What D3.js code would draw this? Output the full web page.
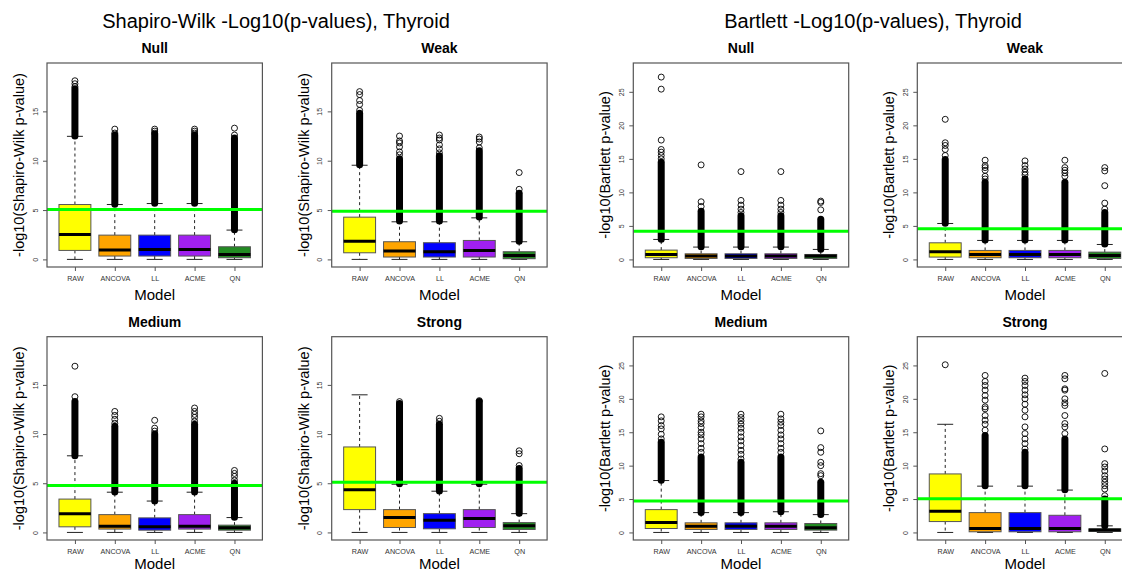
<!DOCTYPE html>
<html>
<head>
<meta charset="utf-8">
<script src="https://cdn.jsdelivr.net/npm/d3@7"></script>
<style>
  body { margin: 0; background: #fff; }
  svg { font-family: "Liberation Sans", Arial, sans-serif; display: block; }
</style>
</head>
<body>
<svg id="chart" width="1122" height="573"></svg>
<script>
// categories
const models = ["RAW", "ANCOVA", "LL", "ACME", "QN"];
const boxColors = ["#ffff00", "#ffa500", "#0000ff", "#a020f0", "#228b22"];

// box stats per model: [lower whisker, q1, median, q3, upper whisker]
// dense = range packed solid with outlier circles, out = single outliers, cut = green line

const swNullStats = [[0, 0.91, 2.53, 5.56, 12.47], [0, 0.34, 0.94, 2.46, 5.56], [0, 0.34, 1.01, 2.46, 5.66], [0, 0.34, 1.01, 2.46, 5.66], [0, 0.17, 0.5, 1.28, 2.97]];
const swNullDense = [[12.5, 17.3], [5.6, 12.6], [5.7, 12.7], [5.7, 12.6], [3.0, 12.3]];
const swNullOut = [[17.5, 17.8, 18.1], [12.8, 13.2], [12.8, 13.0, 13.2], [12.8, 13.0, 13.2], [12.6, 13.3]];
const swNullCut = 5.06;

const swWeakStats = [[0, 0.67, 1.85, 4.28, 9.54], [0, 0.24, 0.84, 1.79, 3.81], [0, 0.24, 0.78, 1.69, 3.81], [0, 0.24, 0.91, 1.92, 4.21], [0, 0.07, 0.4, 0.78, 1.79]];
const swWeakDense = [[9.6, 14.8], [3.9, 10.2], [3.9, 10.5], [4.3, 11.0], [1.85, 6.7]];
const swWeakOut = [[15.1, 15.7, 16.1, 16.7, 17.0], [10.6, 10.9, 11.4, 11.8, 12.0, 12.5], [10.8, 11.2, 11.6, 12.1, 12.3, 12.6], [11.3, 11.9, 12.2, 12.4], [7.1, 8.8]];
const swWeakCut = 4.89;

const swMediumStats = [[0, 0.57, 1.91, 3.39, 7.79], [0, 0.34, 0.64, 1.81, 4.09], [0, 0.23, 0.57, 1.48, 3.19], [0, 0.34, 0.64, 1.81, 4.09], [0, 0.23, 0.47, 0.74, 1.51]];
const swMediumDense = [[7.8, 13.3], [4.1, 10.8], [3.2, 10.0], [4.1, 11.0], [1.55, 5.0]];
const swMediumOut = [[13.8, 16.9], [11.1, 11.5, 11.9, 12.3], [10.3, 10.6, 11.4], [11.3, 11.7, 12.0, 12.3, 12.65], [5.3, 5.7, 6.0, 6.3]];
const swMediumCut = 4.77;

const swStrongStats = [[0, 2.32, 4.33, 8.69, 13.99], [0, 0.5, 1.51, 2.32, 4.9], [0, 0.37, 1.24, 1.91, 4.19], [0, 0.5, 1.41, 2.32, 4.9], [0, 0.3, 0.67, 1.0, 1.91]];
const swStrongDense = [null, [4.95, 13.1], [4.2, 11.0], [4.95, 13.3], [1.95, 6.5]];
const swStrongOut = [[], [13.3], [11.3, 11.6], [13.4], [6.8, 8.0, 8.3]];
const swStrongCut = 5.1;

const bNullStats = [[0, 0.25, 0.74, 1.39, 2.98], [0, 0.15, 0.5, 0.84, 1.84], [0, 0.15, 0.5, 0.84, 1.84], [0, 0.15, 0.5, 0.84, 1.84], [0, 0.15, 0.5, 0.74, 1.49]];
const bNullDense = [[3.0, 14.5], [1.9, 7.2], [1.9, 6.5], [1.9, 6.5], [1.5, 6.0]];
const bNullOut = [[15.0, 15.5, 16.0, 16.4, 17.8, 25.4, 27.2], [7.9, 8.6, 14.1], [7.0, 7.5, 8.1, 8.8, 13.1], [7.0, 7.5, 8.1, 8.8, 13.1], [7.4, 8.5, 8.7]];
const bNullCut = 4.2;

const bWeakStats = [[0, 0.35, 1.14, 2.48, 5.36], [0, 0.25, 0.74, 1.34, 2.83], [0, 0.25, 0.74, 1.34, 2.83], [0, 0.25, 0.74, 1.34, 2.83], [0, 0.15, 0.6, 1.09, 2.23]];
const bWeakDense = [[5.4, 14.9], [2.9, 11.5], [2.9, 12.0], [2.9, 11.5], [2.3, 7.0]];
const bWeakOut = [[15.5, 16.4, 17.0, 17.4, 20.9], [12.0, 12.4, 13.3, 13.7, 14.0, 14.8], [12.6, 13.0, 13.5, 14.0, 14.7], [12.4, 12.9, 13.3, 13.7, 14.8], [7.5, 8.4, 11.0, 13.2, 13.7]];
const bWeakCut = 4.56;

const bMediumStats = [[0, 0.59, 1.49, 3.42, 7.77], [0, 0.45, 0.94, 1.44, 2.97], [0, 0.45, 0.94, 1.44, 2.97], [0, 0.45, 0.94, 1.44, 3.1], [0, 0.35, 0.69, 1.34, 2.67]];
const bMediumDense = [[7.8, 13.5], [3.0, 11.3], [3.0, 10.5], [3.1, 11.3], [2.7, 7.5]];
const bMediumOut = [[14.0, 14.7, 15.5, 16.0, 16.7, 17.3], [12.0, 12.6, 13.3, 14.0, 14.6, 15.0, 15.7, 16.3, 16.7, 17.3, 17.7], [11.0, 11.7, 12.3, 13.0, 13.7, 14.3, 15.0, 15.6, 16.2, 16.7, 17.2, 17.7], [12.0, 12.6, 13.3, 14.0, 14.6, 15.3, 16.0, 16.5, 17.0, 17.7], [8.5, 8.8, 10.0, 10.5, 12.0, 12.7, 15.2]];
const bMediumCut = 4.7;

const bStrongStats = [[0, 1.63, 3.17, 8.76, 16.19], [0, 0.1, 0.59, 2.97, 6.93], [0, 0.1, 0.59, 2.97, 6.93], [0, 0.1, 0.59, 2.57, 6.34], [0, 0.15, 0.35, 0.54, 0.99]];
const bStrongDense = [null, [7.0, 14.5], [7.0, 12.0], [6.4, 14.0], [1.0, 5.0]];
const bStrongOut = [[25.1], [15.3, 16.2, 16.8, 17.5, 18.5, 18.8, 19.8, 20.5, 21.3, 22.0, 22.6, 23.5], [12.5, 13.3, 14.0, 14.8, 15.8, 17.3, 18.3, 19.2, 20.0, 20.6, 21.3, 22.0, 22.6, 23.1], [14.8, 15.8, 16.3, 17.5, 19.0, 19.4, 20.0, 21.3, 21.5, 23.0, 23.5], [5.5, 6.5, 7.0, 7.5, 8.0, 8.5, 9.2, 9.8, 10.3, 12.5, 23.8]];
const bStrongCut = 5.05;

// y ticks
const swTicks = [0, 5, 10, 15];
const bTicks = [0, 5, 10, 15, 20, 25];

const svg = d3.select("#chart");

// layout of the 8 panels
const colX = [47, 331.7, 633.3, 917.3];
const rowY = [63, 336.7];
const pw = 215.4, ph = 204;

const panels = [
  { title: "Null",   x: colX[0], y: rowY[0], stats: swNullStats,   dense: swNullDense,   out: swNullOut,   cut: swNullCut,   test: "sw" },
  { title: "Weak",   x: colX[1], y: rowY[0], stats: swWeakStats,   dense: swWeakDense,   out: swWeakOut,   cut: swWeakCut,   test: "sw" },
  { title: "Medium", x: colX[0], y: rowY[1], stats: swMediumStats, dense: swMediumDense, out: swMediumOut, cut: swMediumCut, test: "sw" },
  { title: "Strong", x: colX[1], y: rowY[1], stats: swStrongStats, dense: swStrongDense, out: swStrongOut, cut: swStrongCut, test: "sw" },
  { title: "Null",   x: colX[2], y: rowY[0], stats: bNullStats,    dense: bNullDense,    out: bNullOut,    cut: bNullCut,    test: "b" },
  { title: "Weak",   x: colX[3], y: rowY[0], stats: bWeakStats,    dense: bWeakDense,    out: bWeakOut,    cut: bWeakCut,    test: "b" },
  { title: "Medium", x: colX[2], y: rowY[1], stats: bMediumStats,  dense: bMediumDense,  out: bMediumOut,  cut: bMediumCut,  test: "b" },
  { title: "Strong", x: colX[3], y: rowY[1], stats: bStrongStats,  dense: bStrongDense,  out: bStrongOut,  cut: bStrongCut,  test: "b" }
];

// main titles
svg.append("text").attr("x", 276).attr("y", 28).attr("text-anchor", "middle")
  .attr("font-size", 20).text("Shapiro-Wilk -Log10(p-values), Thyroid");
svg.append("text").attr("x", 873).attr("y", 28).attr("text-anchor", "middle")
  .attr("font-size", 20).text("Bartlett -Log10(p-values), Thyroid");

panels.forEach(function(p) { drawPanel(p); });

function drawPanel(p)
{
    const g = svg.append("g").attr("transform", "translate(" + p.x + "," + p.y + ")");
    const h = (p.y > 100) ? 203.3 : ph;

    const x = d3.scaleLinear().domain([0.3, 5.7]).range([0, pw]);
    const y = d3.scaleLinear()
        .domain(p.test == "sw" ? [-0.77, 19.9] : [-1.13, 29.3])
        .range([h, 0]);
    const unit = x(2) - x(1);
    const bw = unit * 0.8;
    const cw = unit * 0.4;

    // titles
    g.append("text").attr("x", pw / 2).attr("y", -10).attr("text-anchor", "middle")
      .attr("font-size", 14).attr("font-weight", "bold").text(p.title);
    // keep the lower "Model" inside the page
    g.append("text").attr("x", pw / 2).attr("y", Math.min(h + 33, 569.5 - p.y)).attr("text-anchor", "middle")
      .attr("font-size", 15).text("Model");
    g.append("text")
      .attr("transform", "translate(" + (-23) + "," + (h / 2) + ") rotate(-90)")
      .attr("text-anchor", "middle").attr("font-size", 14.5)
      .text(p.test == "sw" ? "-log10(Shapiro-Wilk p-value)" : "-log10(Bartlett p-value)");

    // axes
    const yAxis = g.append("g").call(d3.axisLeft(y).tickValues(p.test == "sw" ? swTicks : bTicks).tickSize(4));
    yAxis.select(".domain").remove();
    yAxis.selectAll("line").attr("stroke", "#555");
    yAxis.selectAll("text").attr("transform", "rotate(-90)").attr("x", 0).attr("y", -9.5)
      .attr("dy", 0).attr("text-anchor", "middle").attr("font-size", 7).attr("fill", "#333");

    const xAxis = g.append("g").attr("transform", "translate(0," + h + ")")
      .call(d3.axisBottom(x).tickValues([1, 2, 3, 4, 5]).tickFormat(function(d) { return models[d - 1]; }).tickSize(4));
    xAxis.select(".domain").remove();
    xAxis.selectAll("line").attr("stroke", "#555");
    xAxis.selectAll("text").attr("y", 14).attr("dy", 0).attr("font-size", 7.2).attr("fill", "#333");

    const items = models.map(function(m, i) {
        return { i: i + 1, s: p.stats[i], dense: p.dense[i], out: p.out[i], color: boxColors[i] };
    });

    const box = g.selectAll(".box").data(items).enter().append("g").attr("class", "box");

    // whiskers
    box.append("line")
      .attr("x1", function(d) { return x(d.i); }).attr("x2", function(d) { return x(d.i); })
      .attr("y1", function(d) { return y(d.s[3]); }).attr("y2", function(d) { return y(d.s[4]); })
      .attr("stroke", "#222").attr("stroke-dasharray", "3,3");
    box.append("line")
      .attr("x1", function(d) { return x(d.i); }).attr("x2", function(d) { return x(d.i); })
      .attr("y1", function(d) { return y(d.s[1]); }).attr("y2", function(d) { return y(d.s[0]); })
      .attr("stroke", "#222").attr("stroke-dasharray", "3,3");
    [0, 4].forEach(function(k) {
        box.append("line")
          .attr("x1", function(d) { return x(d.i) - cw / 2; }).attr("x2", function(d) { return x(d.i) + cw / 2; })
          .attr("y1", function(d) { return y(d.s[k]); }).attr("y2", function(d) { return y(d.s[k]); })
          .attr("stroke", "#222");
    });

    // box body + median
    box.append("rect")
      .attr("x", function(d) { return x(d.i) - bw / 2; }).attr("width", bw)
      .attr("y", function(d) { return y(d.s[3]); })
      .attr("height", function(d) { return y(d.s[1]) - y(d.s[3]); })
      .attr("fill", function(d) { return d.color; })
      .attr("stroke", "#555").attr("stroke-width", 1);
    box.append("line")
      .attr("x1", function(d) { return x(d.i) - bw / 2; }).attr("x2", function(d) { return x(d.i) + bw / 2; })
      .attr("y1", function(d) { return y(d.s[2]); }).attr("y2", function(d) { return y(d.s[2]); })
      .attr("stroke", "#000").attr("stroke-width", 3);

    // packed outliers, drawn as a solid column
    box.filter(function(d) { return d.dense; }).append("rect")
      .attr("x", function(d) { return x(d.i) - 3.5; }).attr("width", 7)
      .attr("y", function(d) { return y(d.dense[1]) - 3.5; })
      .attr("height", function(d) { return y(d.dense[0]) - y(d.dense[1]) + 7; })
      .attr("rx", 3.5).attr("fill", "#000");

    // single outliers
    box.selectAll(".pt").data(function(d) { return d.out.map(function(v) { return { i: d.i, v: v }; }); })
      .enter().append("circle")
      .attr("cx", function(d) { return x(d.i); })
      .attr("cy", function(d) { return y(d.v); })
      .attr("r", 3).attr("fill", "none").attr("stroke", "#000").attr("stroke-width", 0.9);

    // green cut line
    g.append("line").attr("x1", 0).attr("x2", pw)
      .attr("y1", y(p.cut)).attr("y2", y(p.cut))
      .attr("stroke", "#00ff00").attr("stroke-width", 3);

    // frame
    g.append("rect").attr("width", pw).attr("height", h)
      .attr("fill", "none").attr("stroke", "#555").attr("stroke-width", 1.2);
}
</script>
</body>
</html>
